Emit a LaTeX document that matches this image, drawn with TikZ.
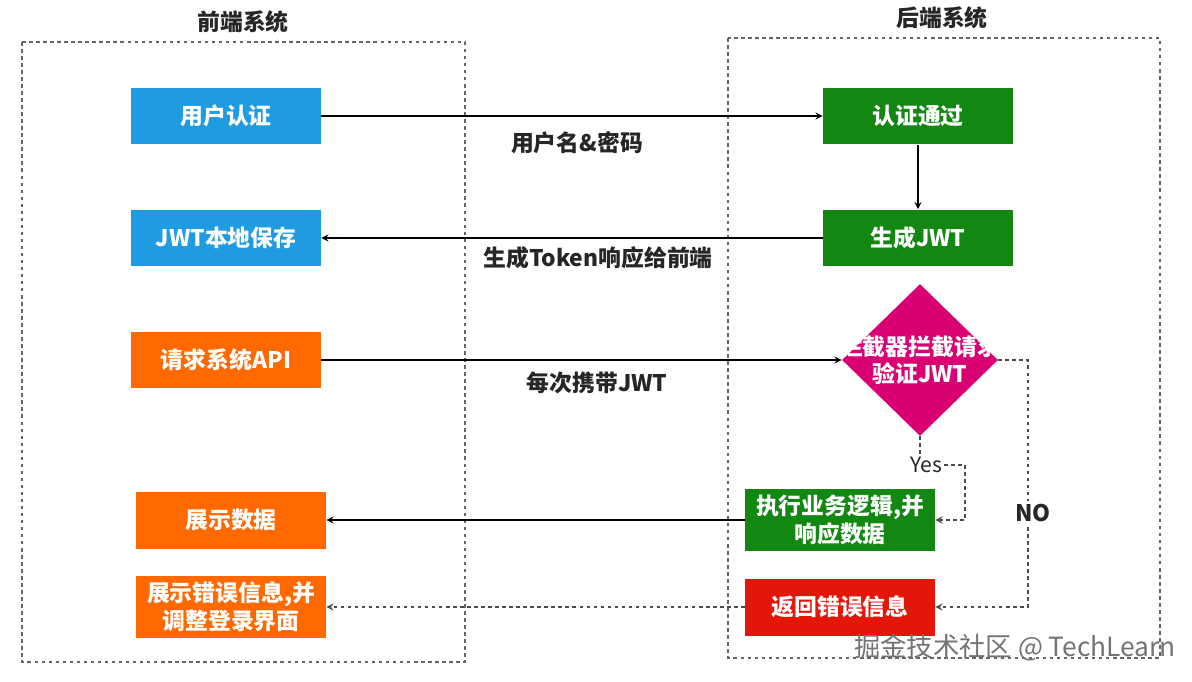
\documentclass[tikz,border=0pt]{standalone}
\usepackage{fontspec}
\newfontfamily\cjk{Noto Sans CJK SC}
\usetikzlibrary{shapes.geometric, arrows}

\definecolor{authblue}{RGB}{30,155,225}
\definecolor{okgreen}{RGB}{18,135,18}
\definecolor{reqorange}{RGB}{255,105,0}
\definecolor{errred}{RGB}{228,22,10}
\definecolor{checkpink}{RGB}{216,0,115}

\tikzstyle{arrow} = [thick,->,>=stealth]
\tikzstyle{dotline} = [thick,dash pattern=on 2pt off 2pt,draw=black!70]
\tikzstyle{dotarrow} = [dotline,->,>=stealth]
\tikzstyle{stepbox} = [rectangle, minimum width=3.8cm, minimum height=1.14cm, text=white, align=center, font=\cjk\bfseries\fontsize{13}{16}\selectfont]
\tikzstyle{sysframe} = [thick, dash pattern=on 2pt off 2pt, draw=black!60]
\tikzstyle{lbl} = [font=\cjk\bfseries\fontsize{13}{16}\selectfont, text=black!85]

\begin{document}
\begin{tikzpicture}[x=0.02cm, y=-0.02cm]
        \useasboundingbox[fill=white] (0,0) rectangle (1192,682);

        % containers
        \draw[sysframe] (22,42) rectangle (465,662);
        \draw[sysframe] (728,38) rectangle (1160,658);
        \node[lbl] (fronttitle) at (243,22) {前端系统};
        \node[lbl] (backtitle) at (942,18) {后端系统};

        % front end
        \node at (226,116) [stepbox, fill=authblue](login) {用户认证};
        \node at (226,238) [stepbox, fill=authblue](store) {JWT本地保存};
        \node at (226,360) [stepbox, fill=reqorange](request) {请求系统API};
        \node at (231,520) [stepbox, fill=reqorange](show) {展示数据};
        \node at (231,607) [stepbox, fill=reqorange](showerr) {展示错误信息,并\\调整登录界面};

        % back end
        \node at (918,116) [stepbox, fill=okgreen](pass) {认证通过};
        \node at (918,238) [stepbox, fill=okgreen](gen) {生成JWT};
        \node at (920,360) [diamond, fill=checkpink, minimum width=3.12cm, minimum height=3.04cm, inner sep=0pt](check) {};
        \node at (920,360) [stepbox, minimum width=0pt, minimum height=0pt, inner sep=0pt, font=\cjk\bfseries\fontsize{13}{15}\selectfont](checktext) {拦截器拦截请求\\验证JWT};
        \node at (840,520) [stepbox, fill=okgreen](exec) {执行业务逻辑,并\\响应数据};
        \node at (840,607) [stepbox, fill=errred](reterr) {返回错误信息};

        \draw[arrow] (login.east) -- (pass.west);
        \node[lbl] (cred) at (577,143) {用户名\&密码};
        \draw[arrow] (pass.south) -- (gen.north);
        \draw[arrow] (gen.west) -- (store.east);
        \node[lbl] (tokenlbl) at (598,258) {生成Token响应给前端};
        \draw[arrow] (request.east) -- (check.west);
        \node[lbl] (carry) at (597,383) {每次携带JWT};

        \node[lbl, font=\cjk\fontsize{12}{14}\selectfont, inner sep=1pt] (yes) at (926,465) {Yes};
        \draw[dotline] (check.south) -- (920,455);
        \draw[dotarrow] (yes.east) -- (965,465) -- (965,520) -- (exec.east);
        \draw[dotarrow] (check.east) -- (1028,360) -- (1028,607) -- (reterr.east);
        \node[lbl, fill=white, inner sep=2pt] (no) at (1033,513) {NO};

        \draw[arrow] (exec.west) -- (show.east);
        \draw[dotarrow] (reterr.west) -- (showerr.east);

        \node[font=\cjk\fontsize{15}{18}\selectfont, text=black!55] (mark) at (1015,648) {掘金技术社区 @ TechLearn};

    \end{tikzpicture}
\end{document}
